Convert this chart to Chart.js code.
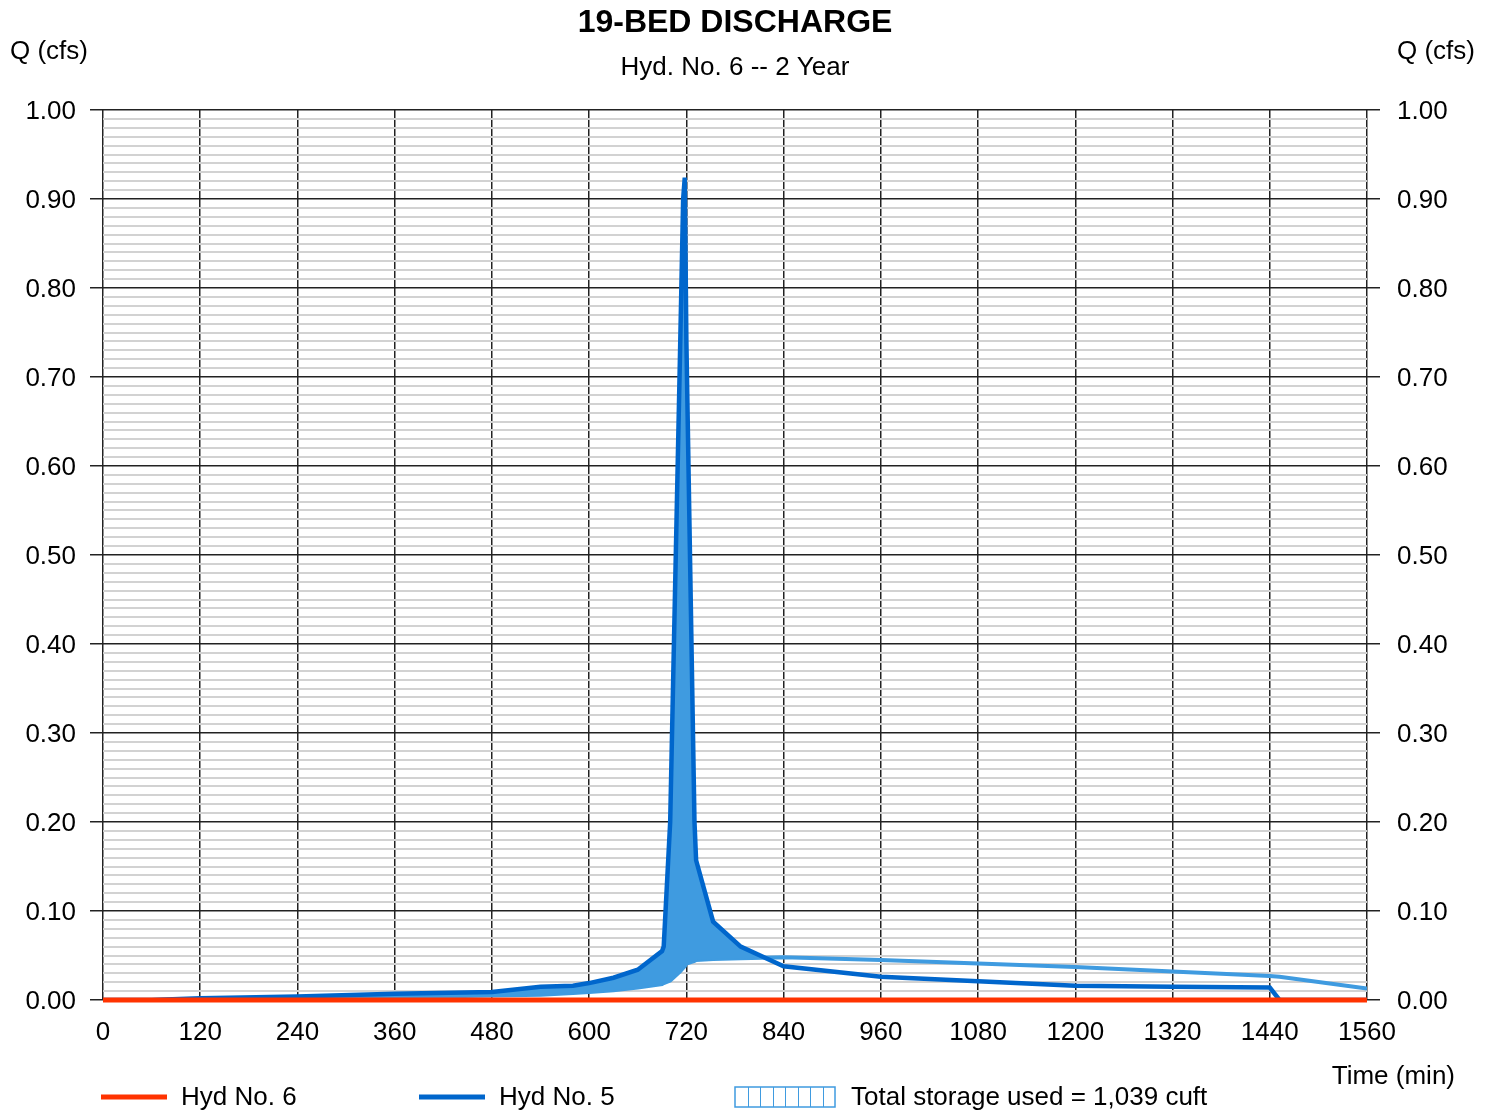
<!DOCTYPE html>
<html>
<head>
<meta charset="utf-8">
<title>19-BED DISCHARGE</title>
<script src="https://cdn.jsdelivr.net/npm/chart.js@4.4.1/dist/chart.umd.min.js"></script>
<style>
  body { margin: 0; background: #fff; }
  #wrap { width: 1494px; height: 1112px; position: relative; }
</style>
</head>
<body>
<div id="wrap"><canvas id="hydro"></canvas></div>
<script>
// Time steps (min) for the inflow hydrograph and storage curve
const times = [0, 60, 120, 240, 360, 480, 540, 580, 600, 630,
  660, 690, 692, 700, 712, 716, 718, 720, 730, 732,
  753, 787, 840, 960, 1080, 1200, 1320, 1440, 1452, 1560];
// Hyd No. 5 (cfs)
const inflow = [0, 0, 0.002, 0.004, 0.007, 0.009, 0.015, 0.016, 0.019, 0.025,
  0.034, 0.055, 0.06, 0.2, 0.72, 0.9, 0.924, 0.74, 0.2, 0.157,
  0.088, 0.06, 0.038, 0.026, 0.021, 0.016, 0.015, 0.014, 0, 0];
// storage limit curve (cfs)
const storageLine = [0, 0, 0.001, 0.002, 0.003, 0.005, 0.006, 0.008, 0.009, 0.011,
  0.014, 0.018, 0.019, 0.022, 0.032, 0.036, 0.038, 0.041, 0.044, 0.045,
  0.046, 0.047, 0.048, 0.045, 0.041, 0.037, 0.032, 0.027, 0.026, 0.013];
// Hyd No. 6 (cfs)
const outflowTimes = [0, 1560];
const outflow = [0, 0];

const storageUsed = 1039; // cuft
const FONT = '"Liberation Sans", Arial, sans-serif';
const RED = '#FF3300';
const BLUE = '#0066CC';
const LIGHT = '#3F9BE0';

const isMajor = v => Math.round(v * 100) % 10 === 0;
const toXY = (xs, ys) => xs.map((x, i) => ({ x: x, y: ys[i] }));

Chart.defaults.font.family = FONT;
Chart.defaults.font.size = 26;
Chart.defaults.color = '#000';

// titles, axis captions and the legend row under the plot
const chartText = {
  id: 'chartText',
  afterDraw(chart) {
    const ctx = chart.ctx;
    const area = chart.chartArea;
    const mid = (area.left + area.right) / 2;
    ctx.save();
    ctx.fillStyle = '#000';
    ctx.textBaseline = 'middle';

    ctx.textAlign = 'center';
    ctx.font = 'bold 32px ' + FONT;
    ctx.fillText('19-BED DISCHARGE', mid, 23);
    ctx.font = '26px ' + FONT;
    ctx.fillText('Hyd. No. 6 -- 2 Year', mid, 68);

    ctx.textAlign = 'left';
    ctx.fillText('Q (cfs)', 10, 52);
    ctx.fillText('Q (cfs)', 1397, 52);
    ctx.textAlign = 'right';
    ctx.fillText('Time (min)', 1455, 1077);

    // legend
    const ly = 1098;
    const ds = chart.data.datasets;
    ctx.textAlign = 'left';
    [[ds[0], 101], [ds[1], 419]].forEach(([d, x]) => {
      ctx.strokeStyle = d.borderColor;
      ctx.lineWidth = 5;
      ctx.beginPath();
      ctx.moveTo(x, ly - 1);
      ctx.lineTo(x + 66, ly - 1);
      ctx.stroke();
      ctx.fillText(d.label, x + 80, ly);
    });

    const bx = 735, bw = 100, bh = 20, cols = 8;
    ctx.strokeStyle = LIGHT;
    ctx.lineWidth = 1.5;
    ctx.strokeRect(bx, ly - 1 - bh / 2, bw, bh);
    ctx.lineWidth = 1;
    for (let i = 1; i < cols; i++) {
      const cx = Math.round(bx + i * bw / cols) + 0.5;
      ctx.beginPath();
      ctx.moveTo(cx, ly - 1 - bh / 2);
      ctx.lineTo(cx, ly - 1 + bh / 2);
      ctx.stroke();
    }
    ctx.fillText('Total storage used = ' + storageUsed.toLocaleString('en-US') + ' cuft', 851, ly);
    ctx.restore();
  }
};

const yTicks = {
  stepSize: 0.01,
  autoSkip: false,
  labelOffset: 2,
  callback: v => isMajor(v) ? v.toFixed(2) : ''
};

new Chart(document.getElementById('hydro'), {
  type: 'line',
  data: {
    datasets: [
      {
        label: 'Hyd No. 6',
        data: toXY(outflowTimes, outflow),
        borderColor: RED,
        borderWidth: 5,
        pointRadius: 0,
        clip: 10,
        order: 0
      },
      {
        label: 'Hyd No. 5',
        data: toXY(times, inflow),
        borderColor: BLUE,
        borderWidth: 4.5,
        pointRadius: 0,
        fill: { target: 2, above: LIGHT, below: 'rgba(0,0,0,0)' },
        order: 1
      },
      {
        label: 'Storage',
        data: toXY(times, storageLine),
        borderColor: LIGHT,
        borderWidth: 4,
        pointRadius: 0,
        order: 2
      }
    ]
  },
  options: {
    responsive: true,
    maintainAspectRatio: false,
    animation: false,
    layout: { padding: { top: 110, left: 0, right: 0, bottom: 0 } },
    plugins: {
      legend: { display: false },
      title: { display: false },
      tooltip: { enabled: false }
    },
    scales: {
      x: {
        type: 'linear',
        min: 0,
        max: 1560,
        border: { display: false },
        grid: { color: '#222', lineWidth: 1.5, drawTicks: false },
        ticks: { stepSize: 120, autoSkip: false, maxRotation: 0, padding: 17, callback: v => String(v) },
        afterFit: s => { s.height = 112; }
      },
      y: {
        position: 'left',
        min: 0,
        max: 1,
        border: { display: false },
        grid: {
          color: c => isMajor(c.tick.value) ? '#222' : '#d2d2d2',
          lineWidth: c => isMajor(c.tick.value) ? 1.5 : 2,
          tickColor: c => isMajor(c.tick.value) ? '#222' : 'rgba(0,0,0,0)',
          tickLength: 13
        },
        ticks: Object.assign({ padding: 14 }, yTicks),
        afterFit: s => { s.width = 103; }
      },
      y2: {
        position: 'right',
        min: 0,
        max: 1,
        border: { display: false },
        grid: {
          drawOnChartArea: false,
          lineWidth: 1.5,
          tickColor: c => isMajor(c.tick.value) ? '#222' : 'rgba(0,0,0,0)',
          tickLength: 13
        },
        ticks: Object.assign({ padding: 17 }, yTicks),
        afterFit: s => { s.width = 127; }
      }
    }
  },
  plugins: [chartText]
});
</script>
</body>
</html>
